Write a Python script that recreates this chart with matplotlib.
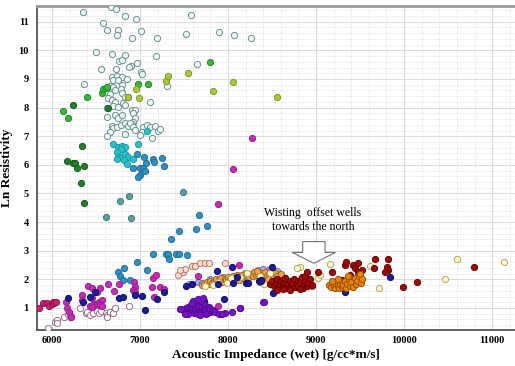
import matplotlib
matplotlib.use("Agg")
import matplotlib.pyplot as plt
from matplotlib.patches import FancyArrow
from matplotlib.ticker import MultipleLocator

# ---------------- data ----------------
hollow_x = [6349, 6670, 6727, 6829, 6951, 6583, 6621, 6753, 6742, 7011, 6909, 7189, 7582, 7522, 7894,
            8071, 8257, 6496, 6687, 6825, 7181, 6761, 6795, 6962, 6897, 6878, 6557, 6724, 7011, 7020,
            7644, 6678, 6742, 6792, 6697, 6753, 6855, 6364, 6659, 6697, 6799, 7302, 6628, 6659, 6716,
            6780, 6792, 6640, 6678, 6716, 6829, 6859, 7113, 6697, 6753, 6810, 6829, 6905, 6943, 6924,
            6621, 6716, 6753, 6792, 6943, 6924, 6905, 6621, 6678, 6697, 6735, 6780, 6829, 6867, 6886,
            6924, 6943, 6659, 6628, 6829, 7037, 7075, 7113, 7170, 7208, 7227, 7018, 7132, 6999]
hollow_y = [11.35, 11.52, 11.43, 11.20, 11.08, 10.97, 10.71, 10.71, 10.54, 10.69, 10.42, 10.42, 11.22, 10.56, 10.63,
            10.52, 10.42, 9.93, 9.89, 9.84, 9.80, 9.63, 9.65, 9.55, 9.45, 9.43, 9.35, 9.34, 9.24, 9.18,
            9.51, 9.08, 9.10, 9.06, 8.98, 8.96, 9.00, 8.81, 8.75, 8.71, 8.79, 8.76, 8.56, 8.47, 8.61,
            8.64, 8.52, 8.33, 8.27, 8.21, 8.38, 8.36, 8.21, 8.06, 8.01, 8.15, 8.09, 7.92, 7.92, 7.80,
            7.97, 7.74, 7.63, 7.74, 7.63, 7.51, 7.43, 7.68, 7.36, 7.28, 7.31, 7.39, 7.45, 7.36, 7.47,
            7.33, 7.22, 7.16, 7.01, 7.07, 7.33, 7.39, 7.31, 7.36, 7.18, 7.24, 7.16, 6.93, 7.04]

cyan_x = [6697, 6753, 6792, 6829, 6780, 6735, 6753, 6792, 6829, 6867, 6742, 6818, 6848, 6924, 6973, 7075]
cyan_y = [6.73, 6.63, 6.67, 6.63, 6.54, 6.46, 6.28, 6.28, 6.37, 6.28, 6.19, 6.17, 6.03, 6.19, 6.73, 7.19]

steel_x = [6962, 7045, 7144, 7253, 7068, 7159, 7272, 6924, 6999, 7037, 7056, 6999, 6980,
           7666, 7632, 7757, 7446, 7355, 7147, 7292, 7322, 7405, 7443, 7333, 7530, 6962, 6821,
           7075, 6753, 6773, 6803, 6886]
steel_y = [6.38, 6.26, 6.19, 6.23, 6.08, 6.11, 5.97, 5.88, 5.90, 5.88, 5.80, 5.64, 5.59,
           4.26, 3.76, 3.87, 3.70, 3.41, 2.89, 2.89, 2.89, 2.89, 2.89, 2.71, 2.84, 2.60, 2.39,
           2.33, 2.27, 2.13, 1.98, 1.98]

greyteal_x = [7488, 6613, 6894, 6871, 6769]
greyteal_y = [5.05, 4.17, 4.14, 4.91, 4.75]

green_x = [6129, 6185, 6394, 6564, 6583, 6610, 6625, 7087, 6973, 7795]
green_y = [7.89, 7.63, 8.36, 8.50, 8.64, 8.70, 8.72, 8.81, 8.82, 9.60]

dkgreen_x = [6329, 6364, 6344, 6167, 6242, 6256, 6287, 6364, 6234, 6640]
dkgreen_y = [5.36, 4.66, 6.66, 6.13, 6.06, 6.08, 5.88, 5.97, 8.09, 7.97]

ygreen_x = [6951, 6860, 6992, 7292, 7322, 7549, 8060, 7825, 8560]
ygreen_y = [8.64, 8.36, 8.35, 8.93, 9.10, 9.22, 8.90, 8.58, 8.36]

magenta_x = [6405, 6458, 6507, 6545, 6344, 6633, 6708, 6765, 6935, 6943, 6924, 6943, 7151, 7178,
             7132, 7227, 7159, 6458, 6477, 6515, 6537, 6565, 6432, 6451, 6545, 6565, 6344, 6167,
             6197, 6212, 6155, 7886, 7890, 8136, 8125, 7662, 8400, 7272, 8273, 8057]
magenta_y = [1.77, 1.71, 1.57, 1.69, 1.45, 1.83, 1.60, 1.84, 1.92, 1.74, 1.63, 1.57, 2.06, 2.15,
             1.74, 1.74, 1.37, 1.34, 1.14, 1.14, 1.20, 1.28, 1.07, 1.05, 1.10, 1.07, 1.28, 0.99,
             0.87, 0.70, 1.22, 4.63, 1.07, 0.99, 2.50, 2.12, 1.22, 1.65, 6.94, 5.85]

crimson_x = [5856, 5901, 5939, 5969, 5996, 6015, 6026, 6045]
crimson_y = [0.99, 1.16, 1.19, 1.07, 1.14, 1.22, 1.19, 1.20]

navy_x = [6185, 6432, 6356, 6761, 6803, 6943, 7018, 7056, 7189, 7272, 7522, 7594, 7727, 7871,
          7890, 7954, 8048, 8105, 8204, 8355, 8371, 8514, 9840, 9329, 6488, 8224, 8374, 8052, 8495]
navy_y = [1.34, 1.39, 1.22, 1.34, 1.37, 1.45, 1.42, 0.93, 1.30, 1.55, 1.77, 1.84, 1.25, 2.30,
          1.84, 1.30, 2.42, 2.09, 1.86, 1.95, 1.98, 1.51, 2.09, 1.57, 1.57, 1.86, 1.95, 1.86, 2.44]

purple_x = [7460, 7500, 7520, 7540, 7550, 7560, 7575, 7580, 7590, 7600, 7610, 7620, 7625, 7635,
            7640, 7650, 7655, 7665, 7670, 7680, 7690, 7695, 7700, 7710, 7715, 7725, 7735, 7740,
            7750, 7760, 7770, 7780, 7790, 7800, 7815, 7830, 7850, 7545, 7605, 7660, 7720, 7590,
            7745, 7680, 7510, 7466, 7900, 7965, 7930, 8048, 8136, 8408]
purple_y = [0.95, 0.88, 1.00, 0.92, 1.05, 0.85, 0.98, 1.12, 0.90, 1.02, 0.82, 0.95, 1.08, 0.88,
            1.15, 1.00, 0.80, 0.93, 1.06, 0.86, 0.98, 1.20, 0.90, 1.04, 0.82, 0.95, 1.10, 0.88,
            1.00, 0.84, 0.93, 1.02, 0.86, 0.95, 0.88, 0.92, 0.86, 0.80, 1.25, 1.30, 1.35, 1.18,
            0.78, 0.76, 0.80, 0.95, 0.79, 0.81, 0.80, 0.87, 0.99, 1.20]

pink_x = [5951, 6034, 6060, 6053, 6136, 6185, 6212, 6318, 6386, 6401, 6432, 6469, 6507, 6537,
          6557, 6613, 6628, 6659, 6689, 6716, 6878, 6621, 6204]
pink_y = [0.31, 0.52, 0.58, 0.47, 0.70, 0.79, 0.72, 1.01, 0.84, 0.87, 0.76, 0.84, 0.91, 0.84,
          0.90, 0.84, 0.76, 0.87, 0.81, 1.01, 1.07, 0.68, 0.68]

lavender_x = [7662, 7700, 7795, 7946, 8193, 8306, 8355, 8446, 8343, 8400, 8450, 8552, 8477, 7560, 7880]
lavender_y = [1.92, 1.88, 2.00, 2.09, 2.21, 2.27, 2.18, 2.30, 2.33, 2.35, 2.33, 2.30, 2.21, 1.85, 1.95]

salmon_x = [7435, 7484, 7511, 7587, 7624, 7681, 7738, 7787, 7966, 7454]
salmon_y = [2.15, 2.27, 2.35, 2.47, 2.47, 2.56, 2.58, 2.58, 2.58, 2.33]

tan_x = [7700, 7730, 7760, 7780, 7800, 7820, 7840, 7860, 7880, 7900, 7920, 7940, 7960, 7980,
         8000, 8020, 8040, 8060, 8080, 8100, 8120, 8140, 8160, 8180, 8200, 8220, 8240, 8260,
         8280, 8300, 8320, 8340, 8360, 8380, 8400, 8420, 8440, 8460, 8480, 8500, 8530, 8560,
         8600, 8650, 8330, 8365, 8420, 8450, 8950]
tan_y = [1.80, 1.85, 1.90, 1.82, 1.95, 1.88, 1.92, 2.00, 1.86, 1.98, 2.05, 1.92, 2.02, 1.96,
         2.08, 2.00, 1.94, 2.10, 2.02, 2.14, 1.98, 2.08, 2.16, 2.04, 2.12, 2.20, 2.08, 2.18,
         2.10, 2.24, 2.14, 2.20, 2.08, 2.22, 2.15, 2.26, 2.12, 2.20, 2.28, 2.16, 2.22, 2.10,
         2.18, 2.05, 2.30, 1.90, 1.92, 2.00, 1.75]

yellow_x = [9159, 9614, 9720, 10466, 10598, 11138, 8817, 8874, 9025, 9045, 8408, 7738, 7833,
            7890, 7985, 8034, 8136, 8212, 8363, 8477, 8780]
yellow_y = [2.53, 2.45, 1.69, 2.01, 2.70, 2.62, 2.43, 1.75, 2.04, 2.15, 1.84, 1.75, 1.80,
            1.92, 1.88, 2.04, 2.09, 2.21, 2.12, 2.21, 2.39]

dkred_x = [8480, 8500, 8520, 8540, 8560, 8575, 8590, 8600, 8620, 8640, 8650, 8660, 8680, 8700,
           8710, 8730, 8745, 8760, 8780, 8790, 8800, 8820, 8840, 8850, 8860, 8880, 8900, 8910,
           8930, 8950, 8620, 8700, 8820, 8560, 8880, 8893, 9025, 9184, 9329, 9424, 9443, 9519,
           9480, 9299, 9386, 9670, 9814, 9659, 9803, 9822, 9784, 9990, 10148, 10797, 9340, 9480]
dkred_y = [1.82, 1.95, 1.75, 1.88, 2.00, 1.70, 1.85, 1.95, 1.78, 1.90, 2.05, 1.68, 1.82, 1.95,
           1.75, 1.88, 2.02, 1.72, 1.85, 1.95, 1.78, 1.90, 2.08, 1.70, 1.82, 1.95, 1.75, 1.88,
           2.00, 1.80, 1.65, 1.62, 1.65, 1.62, 2.12, 2.24, 2.24, 2.27, 2.50, 2.50, 2.39, 2.33,
           2.27, 1.98, 2.15, 2.70, 2.71, 2.39, 2.42, 2.33, 2.27, 1.72, 1.90, 2.42, 2.62, 2.56]

orange_x = [9150, 9170, 9190, 9200, 9210, 9230, 9240, 9250, 9260, 9270, 9290, 9300, 9310, 9330,
            9340, 9350, 9370, 9380, 9400, 9420, 9440, 9450, 9470, 9490, 9500, 9510, 9520, 9360,
            9250, 9180]
orange_y = [1.80, 1.72, 1.88, 1.78, 1.70, 1.85, 1.95, 1.75, 1.68, 1.82, 1.90, 1.72, 1.80, 1.95,
            1.70, 1.85, 2.00, 1.78, 1.90, 1.72, 2.05, 1.85, 1.95, 2.12, 2.20, 1.88, 2.02, 2.10,
            2.00, 1.95]

x_ticks = [6000, 7000, 8000, 9000, 10000, 11000]
y_ticks = [1, 2, 3, 4, 5, 6, 7, 8, 9, 10, 11]
x_label = "Acoustic Impedance (wet) [g/cc*m/s]"
y_label = "Ln Resistivity"
note_text = "Wisting  offset wells\ntowards the north"

# ---------------- styling ----------------
groups = [
    (hollow_x, hollow_y, "#eef6f6", "#6a9090"),
    (pink_x, pink_y, "#ffffff", "#9a7088"),
    (salmon_x, salmon_y, "#f6ddd2", "#c07868"),
    (lavender_x, lavender_y, "#a9a9ec", "#7272b2"),
    (tan_x, tan_y, "#eaa84a", "#a06020"),
    (yellow_x, yellow_y, "#faf6d8", "#b8a850"),
    (cyan_x, cyan_y, "#2cc0ca", "#1a9aa0"),
    (steel_x, steel_y, "#2f90c2", "#1f6f99"),
    (greyteal_x, greyteal_y, "#5b9ea0", "#3d7a7c"),
    (green_x, green_y, "#36b836", "#228822"),
    (dkgreen_x, dkgreen_y, "#1f7f2a", "#155a1c"),
    (ygreen_x, ygreen_y, "#a9c83a", "#7f9a20"),
    (magenta_x, magenta_y, "#c42cb4", "#952088"),
    (crimson_x, crimson_y, "#c8206e", "#901450"),
    (navy_x, navy_y, "#1c1c96", "#10106a"),
    (purple_x, purple_y, "#7612c8", "#540c92"),
    (dkred_x, dkred_y, "#9c0c0c", "#6a0000"),
    (orange_x, orange_y, "#e8850c", "#9a5000"),
]

serif = ["Liberation Serif", "DejaVu Serif"]

fig = plt.figure(figsize=(5.15, 3.66), dpi=100)
ax = fig.add_axes([37 / 515, 36 / 366, 478 / 515, 324 / 366])

for gx, gy, fc, ec in groups:
    ax.scatter(gx, gy, s=20, facecolor=fc, edgecolor=ec, linewidths=0.7, zorder=3)

ax.set_xlim(5830, 11260)
ax.set_ylim(0.23, 11.55)
ax.xaxis.set_minor_locator(MultipleLocator(200))
ax.yaxis.set_minor_locator(MultipleLocator(0.2))
ax.set_xticks(x_ticks)
ax.set_yticks(y_ticks)
ax.set_xticklabels([str(t) for t in x_ticks], family=serif, fontweight="bold", fontsize=7.5)
ax.set_yticklabels([str(t) for t in y_ticks], family=serif, fontweight="bold", fontsize=7.5)
ax.tick_params(which="both", length=0)
ax.tick_params(axis="x", pad=4)
ax.tick_params(axis="y", pad=6)

ax.grid(which="major", color="#dcdcdc", linewidth=0.8, zorder=0)
ax.grid(which="minor", color="#e8e8e8", linewidth=0.6, linestyle=(0, (2, 1)), zorder=0)
ax.set_axisbelow(True)

for side in ["left", "bottom"]:
    ax.spines[side].set_color("#555555")
    ax.spines[side].set_linewidth(1.3)
ax.spines["top"].set_color("#9a9a9a")
ax.spines["top"].set_linewidth(2)
ax.spines["right"].set_visible(False)

ax.set_xlabel(x_label, family=serif, fontweight="bold", fontsize=9.5, labelpad=3)
ax.set_ylabel(y_label, family=serif, fontweight="bold", fontsize=9.5, labelpad=4)

ax.text(8965, 4.08, note_text, family=serif, fontsize=8.5, ha="center", va="center",
        linespacing=1.25, zorder=5)
arrow = FancyArrow(8975, 3.32, 0, -0.76, width=254, head_width=493, head_length=0.38,
                   length_includes_head=True, facecolor="white", edgecolor="#707070",
                   linewidth=0.8, zorder=5)
ax.add_patch(arrow)

fig.savefig("out.png", dpi=100)
